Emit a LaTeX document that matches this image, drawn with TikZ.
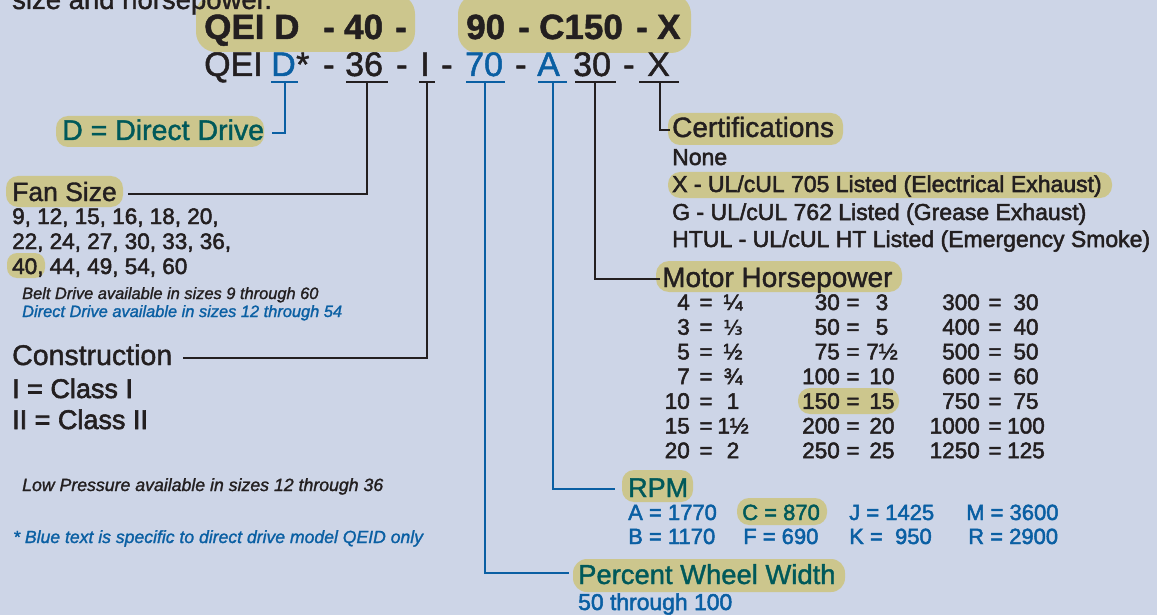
\documentclass[tikz,border=0pt]{standalone}
\usepackage{fontspec}
\setmainfont{Liberation Sans}[FakeBold=1.4]
\newfontfamily\medf{Liberation Sans}[FakeBold=2.2]
\newfontfamily\fracf{DejaVu Sans}[FakeBold=1.5]
\definecolor{bg}{HTML}{CDD5E7}
\definecolor{khaki}{HTML}{CCC68D}
\definecolor{ink}{HTML}{231F20}
\definecolor{blu}{HTML}{0A5FA3}
\definecolor{tealc}{HTML}{00595A}
\newcommand\fsz[1]{\fontsize{#1}{#1}\selectfont}
\tikzset{
  txt/.style={anchor=base west, inner sep=0pt, text=ink},
  txtc/.style={anchor=base, inner sep=0pt, text=ink},
  txte/.style={anchor=base east, inner sep=0pt, text=ink},
  pill/.style={fill=khaki, rounded corners=#1},
  pill/.default=12pt,
  uline/.style={line width=1.5pt},
  conn/.style={line width=1.7pt},
}
\begin{document}
\begin{tikzpicture}[x=1pt,y=-1pt]
\useasboundingbox (0,0) rectangle (1157,615);
\fill[bg] (0,0) rectangle (1157,615);

% highlight pills
\fill[pill=20pt] (196,-6) rectangle (415,52);
\fill[pill=20pt] (458,-6) rectangle (691,53);
\fill[pill] (56,116) rectangle (264,147);
\fill[pill] (6,176) rectangle (123,207);
\fill[pill=10pt] (7,253) rectangle (45,278);
\fill[pill] (668,113) rectangle (843,145);
\fill[pill] (668,172) rectangle (1112,198);
\fill[pill=13pt] (656,261) rectangle (902,292);
\fill[pill] (798,388) rectangle (899,414);
\fill[pill] (622,470) rectangle (693,502);
\fill[pill] (737,498) rectangle (827,525);
\fill[pill=14pt] (573,559) rectangle (845,592);

% top cut text
\node[txt, font=\fsz{27.5}] (topline) at (12,9) {size and horsepower.};

% row 1 (bold)
\begin{scope}[every node/.style={txt, font=\fsz{35}\bfseries}]
\node (r1a) at (204,39) {QEI D};
\node (r1b) at (323,39) {-};
\node (r1c) at (344,39) {40};
\node (r1d) at (395,39) {-};
\node (r1e) at (466,39) {90};
\node (r1f) at (518,39) {-};
\node (r1g) at (539,39) {C150};
\node (r1h) at (636,39) {-};
\node (r1i) at (657,39) {X};
\end{scope}

% row 2 (regular)
\begin{scope}[every node/.style={txt, font=\fsz{34}}]
\node (r2a) at (204,76) {QEI};
\node[text=blu] (r2b) at (271,76) {D};
\node (r2c) at (r2b.base east) {*};
\node (r2d) at (323,76) {-};
\node (r2e) at (345,76) {36};
\node (r2f) at (396,76) {-};
\node (r2g) at (420,76) {I};
\node (r2h) at (441,76) {-};
\node[text=blu] (r2i) at (465,76) {70};
\node (r2j) at (515,76) {-};
\node[text=blu] (r2k) at (537,76) {A};
\node (r2l) at (573,76) {30};
\node (r2m) at (623,76) {-};
\node (r2n) at (647,76) {X};
\end{scope}

% underlines
\coordinate (uDa) at (271,82); \coordinate (uDb) at (298,82); \coordinate (uD) at (285,82);
\coordinate (u36a) at (346,82); \coordinate (u36b) at (388,82); \coordinate (u36) at (367,82);
\coordinate (uIa) at (419,82); \coordinate (uIb) at (435,82); \coordinate (uI) at (427,82);
\coordinate (u70a) at (466,82); \coordinate (u70b) at (505,82); \coordinate (u70) at (485,82);
\coordinate (uAa) at (538,82); \coordinate (uAb) at (567,82); \coordinate (uA) at (553,82);
\coordinate (u30a) at (575,82); \coordinate (u30b) at (616,82); \coordinate (u30) at (595,82);
\coordinate (uXa) at (639,82); \coordinate (uXb) at (679,82); \coordinate (uX) at (660,82);
\draw[uline, blu] (uDa) -- (uDb);
\draw[uline, ink] (u36a) -- (u36b);
\draw[uline, ink] (uIa) -- (uIb);
\draw[uline, blu] (u70a) -- (u70b);
\draw[uline, blu] (uAa) -- (uAb);
\draw[uline, ink] (u30a) -- (u30b);
\draw[uline, ink] (uXa) -- (uXb);

% connector end points
\coordinate (eD) at (272,133);
\coordinate (e36) at (128,194);
\coordinate (eI) at (183,358);
\coordinate (e70) at (569,573);
\coordinate (eA) at (615,489);
\coordinate (e30) at (660,279);
\coordinate (eX) at (670,130);
\draw[conn, blu] (uD) |- (eD);
\draw[conn, ink] (u36) |- (e36);
\draw[conn, ink] (uI) |- (eI);
\draw[conn, blu] (u70) |- (e70);
\draw[conn, blu] (uA) |- (eA);
\draw[conn, ink] (u30) |- (e30);
\draw[conn, ink] (uX) |- (eX);

% left side
\node[txt, text=tealc, font=\fsz{28.5}] (dd) at (62,140) {D = Direct Drive};
\node[txt, font=\fsz{26.5}] (fan) at (12,201) {Fan Size};
\node[txt, font=\fsz{22.5}\medf] (fan1) at (12,224) {9, 12, 15, 16, 18, 20,};
\node[txt, font=\fsz{22.5}\medf] (fan2) at (12,249) {22, 24, 27, 30, 33, 36,};
\node[txt, font=\fsz{22.5}\medf] (fan3) at (12,274) {40, 44, 49, 54, 60};
\node[txt, font=\fsz{16.4}\itshape] (belt) at (22,299) {Belt Drive available in sizes 9 through 60};
\node[txt, text=blu, font=\fsz{16.4}\itshape] (direct) at (22,317) {Direct Drive available in sizes 12 through 54};
\node[txt, font=\fsz{28.5}] (cons) at (12,365) {Construction};
\node[txt, font=\fsz{27}\medf] (cl1) at (12,398) {I = Class I};
\node[txt, font=\fsz{27}\medf] (cl2) at (12,429) {II = Class II};
\node[txt, font=\fsz{17.7}\itshape] (lowp) at (22,491) {Low Pressure available in sizes 12 through 36};
\node[txt, text=blu, font=\fsz{17.6}\itshape] (note) at (13,543) {* Blue text is specific to direct drive model QEID only};

% certifications
\node[txt, font=\fsz{28}] (cert) at (672,137) {Certifications};
\node[txt, font=\fsz{23}\medf] (c1) at (672,165) {None};
\node[txt, font=\fsz{23}\medf] (c2) at (672,192) {X - UL/cUL 705 Listed (Electrical Exhaust)};
\node[txt, font=\fsz{23}\medf] (c3) at (672,220) {G - UL/cUL 762 Listed (Grease Exhaust)};
\node[txt, font=\fsz{23}\medf] (c4) at (672,247) {HTUL - UL/cUL HT Listed (Emergency Smoke)};

% motor horsepower
\node[txt, font=\fsz{28}] (mhp) at (662,287) {Motor Horsepower};
\begin{scope}[every node/.append style={font=\fsz{22.5}\medf}]
\foreach \l/\v [count=\i] in {4/¼, 3/{{\fracf\fontsize{20}{20}\selectfont ⅓}}, 5/½, 7/¾, 10/1, 15/1½, 20/2} {
  \node[txte] (ha\i) at (690,{310+(\i-1)*24.7}) {\l};
  \node[txtc] (hea\i) at (706,{310+(\i-1)*24.7}) {=};
  \node[txtc] (hva\i) at (733,{310+(\i-1)*24.7}) {\v};
}
\foreach \l/\v [count=\i] in {30/3, 50/5, 75/7½, 100/10, 150/15, 200/20, 250/25} {
  \node[txte] (hb\i) at (840,{310+(\i-1)*24.7}) {\l};
  \node[txtc] (heb\i) at (853,{310+(\i-1)*24.7}) {=};
  \node[txtc] (hvb\i) at (882,{310+(\i-1)*24.7}) {\v};
}
\foreach \l/\v [count=\i] in {300/30, 400/40, 500/50, 600/60, 750/75, 1000/100, 1250/125} {
  \node[txte] (hc\i) at (980,{310+(\i-1)*24.7}) {\l};
  \node[txtc] (hec\i) at (995,{310+(\i-1)*24.7}) {=};
  \node[txtc] (hvc\i) at (1026,{310+(\i-1)*24.7}) {\v};
}
\end{scope}

% RPM
\node[txt, text=tealc, font=\fsz{27}] (rpm) at (628,497) {RPM};
\begin{scope}[every node/.style={txt, text=blu, font=\fsz{22}\medf}]
\node (rA) at (628,520) {A = 1770};
\node[text=tealc] (rC) at (742,520) {C = 870};
\node (rJ) at (849,520) {J = 1425};
\node (rM) at (966,520) {M = 3600};
\node (rB) at (628,544) {B = 1170};
\node (rF) at (743,544) {F = 690};
\node (rK) at (849,544) {K =\ \ 950};
\node (rR) at (968,544) {R = 2900};
\end{scope}

% percent wheel width
\node[txt, text=tealc, font=\fsz{27.4}] (pww) at (578,584) {Percent Wheel Width};
\node[txt, text=blu, font=\fsz{22.9}\medf] (pwv) at (578,610) {50 through 100};
\end{tikzpicture}
\end{document}
